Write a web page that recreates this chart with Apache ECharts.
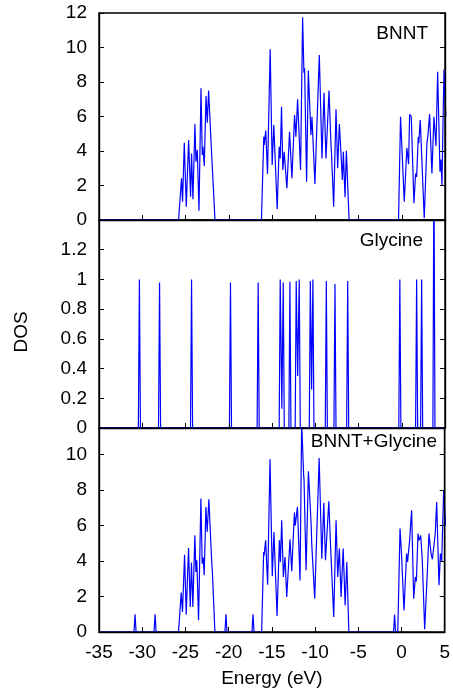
<!DOCTYPE html>
<html>
<head>
<meta charset="utf-8">
<title>DOS</title>
<script src="https://cdn.jsdelivr.net/npm/echarts/dist/echarts.min.js"></script>
<style>
    html, body { margin: 0; padding: 0; background: #fff; }
    #dosChart { width: 453px; height: 698px; }
</style>
</head>
<body>
<div id="dosChart"></div>
<script>
// x ticks (eV)
var energyTicks = [-35, -30, -25, -20, -15, -10, -5, 0, 5];

// panel labels
var panelNames = ['BNNT', 'Glycine', 'BNNT+Glycine'];

// [energy, DOS]
var bnntDos = [
    [-35, 0], [-25.8, 0], [-25.46, 2.42], [-25.34, 1.06], [-25.14, 4.48], [-24.91, 0.77], [-24.64, 4.64],
    [-24.41, 1.35], [-24.30, 3.86], [-24.14, 1.2], [-23.91, 5.57], [-23.79, 3.38], [-23.64, 4.06],
    [-23.44, 0.54], [-23.21, 7.63], [-23.06, 3.77], [-22.98, 4.25], [-22.83, 3.13], [-22.63, 7.19],
    [-22.48, 5.64], [-22.33, 7.5], [-21.98, 3.86], [-21.93, 3.8], [-21.59, 0],
    [-16.22, 0], [-15.95, 4.83], [-15.9, 4.35], [-15.72, 5.18], [-15.52, 2.67], [-15.21, 9.9],
    [-14.98, 3.19], [-14.79, 5.51], [-14.40, 0.62], [-14.17, 4.25], [-14.05, 3.57], [-13.90, 6.57],
    [-13.75, 2.9], [-13.59, 3.96], [-13.28, 1.84], [-12.97, 5.12], [-12.70, 2.42], [-12.39, 6.09],
    [-12.24, 4.83], [-12.04, 7.0], [-11.70, 2.9], [-11.46, 11.75], [-11.31, 8.54], [-11.23, 8.79],
    [-11.0, 2.22], [-10.80, 8.66], [-10.50, 4.93], [-10.38, 5.99], [-10.04, 2.09], [-9.53, 9.57],
    [-9.22, 3.57], [-8.99, 7.38], [-8.76, 3.57], [-8.41, 7.5], [-8.18, 4.35], [-8.13, 3.96],
    [-7.87, 0.77], [-7.60, 6.42], [-7.41, 3.0], [-7.21, 5.57], [-6.86, 2.32], [-6.75, 3.96],
    [-6.56, 1.32], [-6.40, 4.02], [-6.09, 0],
    [-0.37, 0], [-0.14, 5.99], [0.29, 1.06], [0.59, 4.19], [0.79, 3.23], [0.91, 6.13], [1.1, 5.99],
    [1.41, 0.97], [1.60, 2.7], [1.72, 2.5], [1.91, 4.83], [1.97, 4.45], [2.14, 5.8], [2.60, 0.1],
    [2.91, 4.45], [3.03, 4.93], [3.22, 6.14], [3.49, 2.7], [3.72, 5.99], [3.96, 4.29], [4.15, 8.6],
    [4.42, 2.8], [4.53, 3.5], [4.65, 2.03], [4.88, 8.73], [5.1, 6]
];

var glycineDos = [
    [-35, 0], [-30.45, 0], [-30.33, 1.0], [-30.21, 0], [-28.12, 0], [-28.0, 0.98], [-27.88, 0],
    [-24.42, 0], [-24.3, 1.0], [-24.18, 0], [-19.92, 0], [-19.8, 0.98], [-19.68, 0],
    [-16.72, 0], [-16.6, 0.98], [-16.48, 0], [-14.17, 0], [-14.05, 1.0], [-13.86, 0.13],
    [-13.70, 0.98], [-13.58, 0], [-13.05, 0], [-12.93, 0.985], [-12.81, 0], [-12.32, 0],
    [-12.2, 0.99], [-12.03, 0.35], [-11.85, 1.0], [-11.73, 0], [-10.69, 0], [-10.57, 0.99],
    [-10.42, 0.26], [-10.27, 1.0], [-10.15, 0], [-8.84, 0], [-8.72, 0.99], [-8.6, 0],
    [-7.84, 0], [-7.72, 0.97], [-7.6, 0], [-6.37, 0], [-6.25, 0.99], [-6.13, 0],
    [-0.34, 0], [-0.22, 1.0], [-0.1, 0], [1.6, 0], [1.72, 1.0], [1.84, 0], [2.18, 0], [2.30, 1.0],
    [2.42, 0], [3.6, 0], [3.72, 1.8], [3.84, 0], [5, 0]
];

var complexDos = [
    [-35, 0], [-30.95, 0], [-30.83, 1.0], [-30.71, 0], [-28.63, 0], [-28.51, 1.0], [-28.39, 0],
    [-25.8, 0], [-25.49, 2.22], [-25.34, 1.13], [-25.1, 4.36], [-24.91, 0.98], [-24.64, 4.74],
    [-24.44, 1.41], [-24.30, 3.91], [-24.14, 1.41], [-23.91, 5.45], [-23.79, 3.38], [-23.68, 4.04],
    [-23.48, 0.66], [-23.21, 7.52], [-23.06, 3.85], [-22.94, 4.2], [-22.83, 3.2], [-22.63, 7.05],
    [-22.48, 5.64], [-22.29, 7.48], [-21.94, 3.76], [-21.9, 3.6], [-21.59, 0],
    [-20.43, 0], [-20.31, 1.0], [-20.19, 0], [-17.3, 0], [-17.18, 1.0], [-17.06, 0],
    [-16.18, 0], [-15.95, 4.51], [-15.9, 4.3], [-15.72, 5.17], [-15.49, 2.67], [-15.21, 9.74],
    [-14.95, 3.14], [-14.76, 5.64], [-14.40, 0.9], [-14.13, 5.17], [-14.01, 3.95], [-13.86, 6.3],
    [-13.67, 3.1], [-13.48, 4.23], [-13.28, 1.97], [-12.90, 5.23], [-12.70, 3.42], [-12.39, 6.73],
    [-12.3, 6.0], [-12.04, 7.05], [-11.74, 2.91], [-11.55, 11.8], [-11.32, 8.83], [-11.28, 8.6],
    [-11.04, 3.48], [-10.77, 9.06], [-10.45, 6.0], [-10.38, 4.9], [-10.04, 1.88], [-9.53, 9.81],
    [-9.22, 4.13], [-8.99, 7.29], [-8.80, 4.04], [-8.41, 7.37], [-8.22, 4.98], [-8.16, 5.0],
    [-7.84, 0.85], [-7.57, 6.3], [-7.38, 3.1], [-7.19, 4.7], [-6.99, 1.97], [-6.75, 4.7],
    [-6.52, 1.5], [-6.33, 3.95], [-6.09, 0],
    [-0.92, 0], [-0.80, 0.98], [-0.68, 0], [-0.43, 0], [-0.17, 5.83], [-0.01, 4.51], [0.1, 4.6],
    [0.29, 1.22], [0.59, 4.42], [0.7, 3.95], [0.94, 5.17], [1.17, 6.86], [1.41, 1.88], [1.6, 3.1],
    [1.72, 2.85], [1.91, 5.55], [2.03, 5.17], [2.22, 5.45], [2.4, 4.1], [2.68, 0.15], [2.99, 3.38],
    [3.18, 5.55], [3.42, 4.42], [3.53, 4.5], [3.57, 4.1], [3.9, 5.5], [4.07, 7.33], [4.34, 2.63],
    [4.5, 4.42], [4.65, 4.0], [4.88, 7.99], [5.1, 6]
];

// y ranges per panel: [min, max, interval]
var yRanges = [[0, 12, 2], [0, 1.4, 0.2], [0, 11.5, 2]];

(function () {
    var FONT = 'Liberation Sans, Arial, sans-serif';
    var FS = 19;

    function initial() {
        var chart = echarts.init(document.getElementById('dosChart'), null, { renderer: 'canvas' });
        chart.setOption(buildOption());
    }

    function buildOption() {
        var grids = [
            { left: 99, width: 346, top: 13, height: 207 },
            { left: 99, width: 346, top: 220, height: 208 },
            { left: 99, width: 346, top: 428, height: 204 }
        ];
        grids.forEach(function (g) {
            g.show = true;
            g.borderColor = '#000';
            g.borderWidth = 1.4;
            g.backgroundColor = 'transparent';
        });

        var xAxes = [], yAxes = [], series = [];
        var allData = [bnntDos, glycineDos, complexDos];
        var axisLine = { show: true, onZero: false, lineStyle: { color: '#000', width: 1.4 } };
        var axisTick = { show: true, inside: true, length: 5, lineStyle: { color: '#000' } };

        for (var i = 0; i < 3; i++) {
            var last = i === 2;
            xAxes.push({
                type: 'value',
                gridIndex: i,
                z: 5,
                min: energyTicks[0],
                max: energyTicks[energyTicks.length - 1],
                interval: 5,
                axisLine: axisLine,
                axisTick: axisTick,
                axisLabel: {
                    show: last, color: '#000', fontFamily: FONT, fontSize: FS, margin: 11
                },
                splitLine: { show: false },
                name: last ? 'Energy (eV)' : '',
                nameLocation: 'middle',
                nameGap: 37,
                nameTextStyle: { color: '#000', fontFamily: FONT, fontSize: FS }
            });

            var r = yRanges[i];
            var base = {
                type: 'value',
                gridIndex: i,
                z: 5,
                min: r[0],
                max: r[1],
                interval: r[2],
                splitLine: { show: false },
                axisLine: axisLine,
                axisTick: axisTick
            };
            yAxes.push(Object.assign({}, base, {
                position: 'left',
                axisLabel: {
                    color: '#000', fontFamily: FONT, fontSize: FS, margin: 12,
                    showMaxLabel: i === 0
                }
            }));
            yAxes.push(Object.assign({}, base, {
                position: 'right',
                axisLabel: { show: false }
            }));

            series.push({
                name: panelNames[i],
                type: 'line',
                xAxisIndex: i,
                yAxisIndex: i * 2,
                z: 2,
                data: allData[i],
                showSymbol: false,
                symbol: 'none',
                clip: true,
                lineStyle: { color: '#0000ff', width: 1.2 },
                animation: false
            });
        }

        var labelPos = [[428, 35], [423, 242], [437, 443]];
        var graphics = panelNames.map(function (name, i) {
            return {
                type: 'text',
                right: 453 - labelPos[i][0],
                top: labelPos[i][1] - 11,
                style: { text: name, fill: '#000', font: FS + 'px ' + FONT }
            };
        });
        graphics.push({
            type: 'text',
            x: 22,
            y: 332,
            rotation: Math.PI / 2,
            style: {
                text: 'DOS', fill: '#000', font: FS + 'px ' + FONT,
                textAlign: 'center', textVerticalAlign: 'middle'
            }
        });

        return {
            backgroundColor: '#fff',
            animation: false,
            grid: grids,
            xAxis: xAxes,
            yAxis: yAxes,
            series: series,
            graphic: graphics
        };
    }

    initial();
})();
</script>
</body>
</html>
